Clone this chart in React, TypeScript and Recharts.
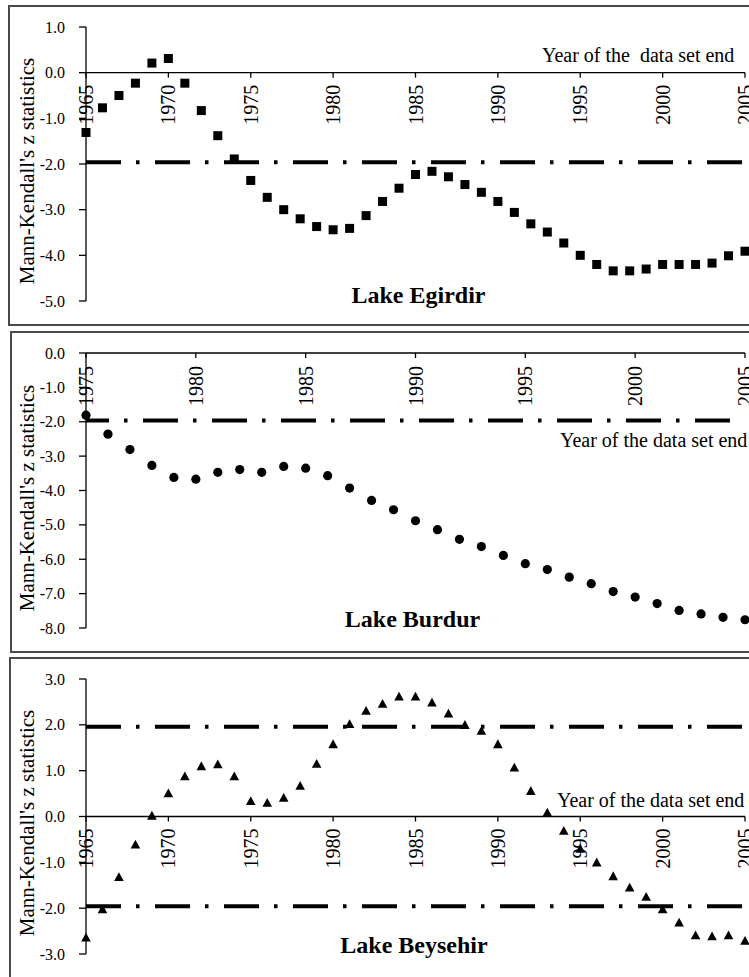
import React from 'react';
import { ScatterChart, Scatter, XAxis, YAxis, ReferenceLine } from 'recharts';

const FONT = '"Liberation Serif", "Times New Roman", Times, serif';

// ---- Lake Egirdir (squares) ----
const egirdirYears = [1965, 1966, 1967, 1968, 1969, 1970, 1971, 1972, 1973, 1974, 1975, 1976, 1977, 1978, 1979, 1980, 1981, 1982, 1983, 1984, 1985, 1986, 1987, 1988, 1989, 1990, 1991, 1992, 1993, 1994, 1995, 1996, 1997, 1998, 1999, 2000, 2001, 2002, 2003, 2004, 2005];
const egirdirZ = [-1.31, -0.77, -0.50, -0.23, 0.21, 0.31, -0.23, -0.83, -1.38, -1.89, -2.36, -2.73, -3.00, -3.20, -3.37, -3.44, -3.41, -3.13, -2.82, -2.53, -2.23, -2.16, -2.28, -2.45, -2.62, -2.82, -3.06, -3.31, -3.49, -3.73, -4.00, -4.20, -4.34, -4.34, -4.30, -4.20, -4.20, -4.20, -4.17, -4.01, -3.91];

// ---- Lake Burdur (circles) ----
const burdurYears = [1975, 1976, 1977, 1978, 1979, 1980, 1981, 1982, 1983, 1984, 1985, 1986, 1987, 1988, 1989, 1990, 1991, 1992, 1993, 1994, 1995, 1996, 1997, 1998, 1999, 2000, 2001, 2002, 2003, 2004, 2005];
const burdurZ = [-1.81, -2.36, -2.81, -3.27, -3.62, -3.67, -3.47, -3.39, -3.47, -3.30, -3.35, -3.57, -3.93, -4.29, -4.56, -4.88, -5.14, -5.42, -5.63, -5.89, -6.13, -6.30, -6.52, -6.71, -6.94, -7.10, -7.29, -7.49, -7.59, -7.69, -7.76];

// ---- Lake Beysehir (triangles) ----
const beysehirYears = [1965, 1966, 1967, 1968, 1969, 1970, 1971, 1972, 1973, 1974, 1975, 1976, 1977, 1978, 1979, 1980, 1981, 1982, 1983, 1984, 1985, 1986, 1987, 1988, 1989, 1990, 1991, 1992, 1993, 1994, 1995, 1996, 1997, 1998, 1999, 2000, 2001, 2002, 2003, 2004, 2005];
const beysehirZ = [-2.65, -2.03, -1.33, -0.62, 0.01, 0.50, 0.87, 1.09, 1.13, 0.87, 0.33, 0.29, 0.40, 0.66, 1.14, 1.57, 2.01, 2.30, 2.45, 2.61, 2.61, 2.48, 2.24, 1.99, 1.86, 1.57, 1.06, 0.55, 0.08, -0.32, -0.71, -1.01, -1.31, -1.56, -1.76, -2.03, -2.32, -2.60, -2.62, -2.60, -2.72];

// ---- ticks ----
const xTicks1965 = [1965, 1970, 1975, 1980, 1985, 1990, 1995, 2000, 2005];
const xTicks1975 = [1975, 1980, 1985, 1990, 1995, 2000, 2005];
const yTicksEgirdir = [1, 0, -1, -2, -3, -4, -5];
const yTicksBurdur = [0, -1, -2, -3, -4, -5, -6, -7, -8];
const yTicksBeysehir = [3, 2, 1, 0, -1, -2, -3];

// ---- critical z values ----
const critEgirdir = [-1.96];
const critBurdur = [-1.96];
const critBeysehir = [1.96, -1.96];

const yLabel = "Mann-Kendall's z statistics";

const toPts = (xs: number[], ys: number[]) => xs.map((x, i) => ({ x, y: ys[i] }));

const Square = (p: any) => <rect x={p.cx - 4.5} y={p.cy - 4.5} width={9} height={9} fill="#000" />;
const Dot = (p: any) => <circle cx={p.cx} cy={p.cy} r={4.6} fill="#000" />;
const Tri = (p: any) => (
  <path d={`M${p.cx},${p.cy - 5.2} L${p.cx + 4.8},${p.cy + 3.6} L${p.cx - 4.8},${p.cy + 3.6} Z`} fill="#000" />
);

const makeTick = (gap: number) => (p: any) => (
  <g>
    <line x1={p.cx} y1={p.cy} x2={p.cx} y2={p.cy + 5} stroke="#000" strokeWidth={1.3} />
    <text
      transform={`translate(${p.cx},${p.cy + gap}) rotate(-90)`}
      textAnchor="end"
      dy="0.35em"
      fontSize={20}
      style={{ fontFamily: FONT }}
      fill="#000"
    >
      {p.payload.x}
    </text>
  </g>
);

const YTick = (p: any) => (
  <text
    x={p.x}
    y={p.y}
    dy="0.35em"
    textAnchor="end"
    fontSize={16}
    style={{ fontFamily: FONT }}
    fill="#000"
  >
    {Number(p.payload.value).toFixed(1)}
  </text>
);

type PanelProps = {
  top: number;
  height: number;
  marginTop: number;
  plotH: number;
  domainX: [number, number];
  domainY: [number, number];
  yTicks: number[];
  xTicks: number[];
  data: { x: number; y: number }[];
  shape: any;
  crit: number[];
  dashOffset: number;
  tickGap: number;
};

function Panel(props: PanelProps) {
  const { top, height, marginTop, plotH, domainX, domainY, yTicks, xTicks, data, shape, crit, dashOffset, tickGap } = props;
  const tickPts = xTicks.map((x) => ({ x, y: 0 }));
  return (
    <div style={{ position: 'absolute', left: 0, top, width: 750, height }}>
      <ScatterChart
        width={750}
        height={height}
        margin={{ top: marginTop, right: 5, bottom: height - marginTop - plotH, left: 0 }}
      >
        <XAxis type="number" dataKey="x" domain={domainX} hide />
        <YAxis
          type="number"
          dataKey="y"
          domain={domainY}
          ticks={yTicks}
          width={86}
          tickSize={7}
          tickMargin={14}
          axisLine={{ stroke: '#000', strokeWidth: 1.3 }}
          tickLine={{ stroke: '#000', strokeWidth: 1.3 }}
          tick={<YTick />}
        />
        <ReferenceLine y={0} stroke="#000" strokeWidth={1.3} />
        {crit.map((v) => (
          <ReferenceLine
            key={v}
            y={v}
            stroke="#000"
            strokeWidth={4}
            strokeDasharray="35 15 3.5 15.5"
            strokeDashoffset={dashOffset}
          />
        ))}
        <Scatter data={tickPts} shape={makeTick(tickGap)} isAnimationActive={false} />
        <Scatter data={data} shape={shape} isAnimationActive={false} />
      </ScatterChart>
    </div>
  );
}

const borderStyle = (left: number, top: number, height: number): React.CSSProperties => ({
  position: 'absolute',
  left,
  top,
  width: 800,
  height,
  border: '2px solid #4a4a4a',
  boxSizing: 'border-box',
});

export default function App() {
  return (
    <div
      style={{
        position: 'absolute',
        left: 0,
        top: 0,
        width: 749,
        height: 977,
        overflow: 'hidden',
        background: '#fff',
        fontFamily: FONT,
      }}
    >
      <div style={borderStyle(8, 5, 321)} />
      <div style={borderStyle(10, 331, 322)} />
      <div style={borderStyle(9, 657, 400)} />

      <Panel
        top={0}
        height={326}
        marginTop={27}
        plotH={274}
        domainX={[1965, 2005]}
        domainY={[-5, 1]}
        yTicks={yTicksEgirdir}
        xTicks={xTicks1965}
        data={toPts(egirdirYears, egirdirZ)}
        shape={Square}
        crit={critEgirdir}
        dashOffset={0}
        tickGap={12}
      />
      <Panel
        top={326}
        height={327}
        marginTop={27}
        plotH={275}
        domainX={[1975, 2005]}
        domainY={[-8, 0]}
        yTicks={yTicksBurdur}
        xTicks={xTicks1975}
        data={toPts(burdurYears, burdurZ)}
        shape={Dot}
        crit={critBurdur}
        dashOffset={12}
        tickGap={13}
      />
      <Panel
        top={652}
        height={325}
        marginTop={27}
        plotH={275}
        domainX={[1965, 2005]}
        domainY={[-3, 3]}
        yTicks={yTicksBeysehir}
        xTicks={xTicks1965}
        data={toPts(beysehirYears, beysehirZ)}
        shape={Tri}
        crit={critBeysehir}
        dashOffset={0}
        tickGap={12}
      />

      <svg width={749} height={977} style={{ position: 'absolute', left: 0, top: 0, pointerEvents: 'none' }}>
        <g style={{ fontFamily: FONT }} fill="#000">
          <text transform="translate(34,171) rotate(-90)" textAnchor="middle" fontSize={21}>{yLabel}</text>
          <text transform="translate(34,498) rotate(-90)" textAnchor="middle" fontSize={21}>{yLabel}</text>
          <text transform="translate(34,823) rotate(-90)" textAnchor="middle" fontSize={21}>{yLabel}</text>

          <text x={542} y={61.5} fontSize={20} style={{ whiteSpace: 'pre' }}>{'Year of the  data set end'}</text>
          <text x={560} y={447} fontSize={20}>Year of the data set end</text>
          <text x={557} y={807} fontSize={20}>Year of the data set end</text>

          <text x={418.5} y={302.5} fontSize={24} fontWeight="bold" textAnchor="middle">Lake Egirdir</text>
          <text x={412.5} y={626.5} fontSize={24} fontWeight="bold" textAnchor="middle">Lake Burdur</text>
          <text x={414} y={953} fontSize={24} fontWeight="bold" textAnchor="middle">Lake Beysehir</text>
        </g>
      </svg>
    </div>
  );
}
